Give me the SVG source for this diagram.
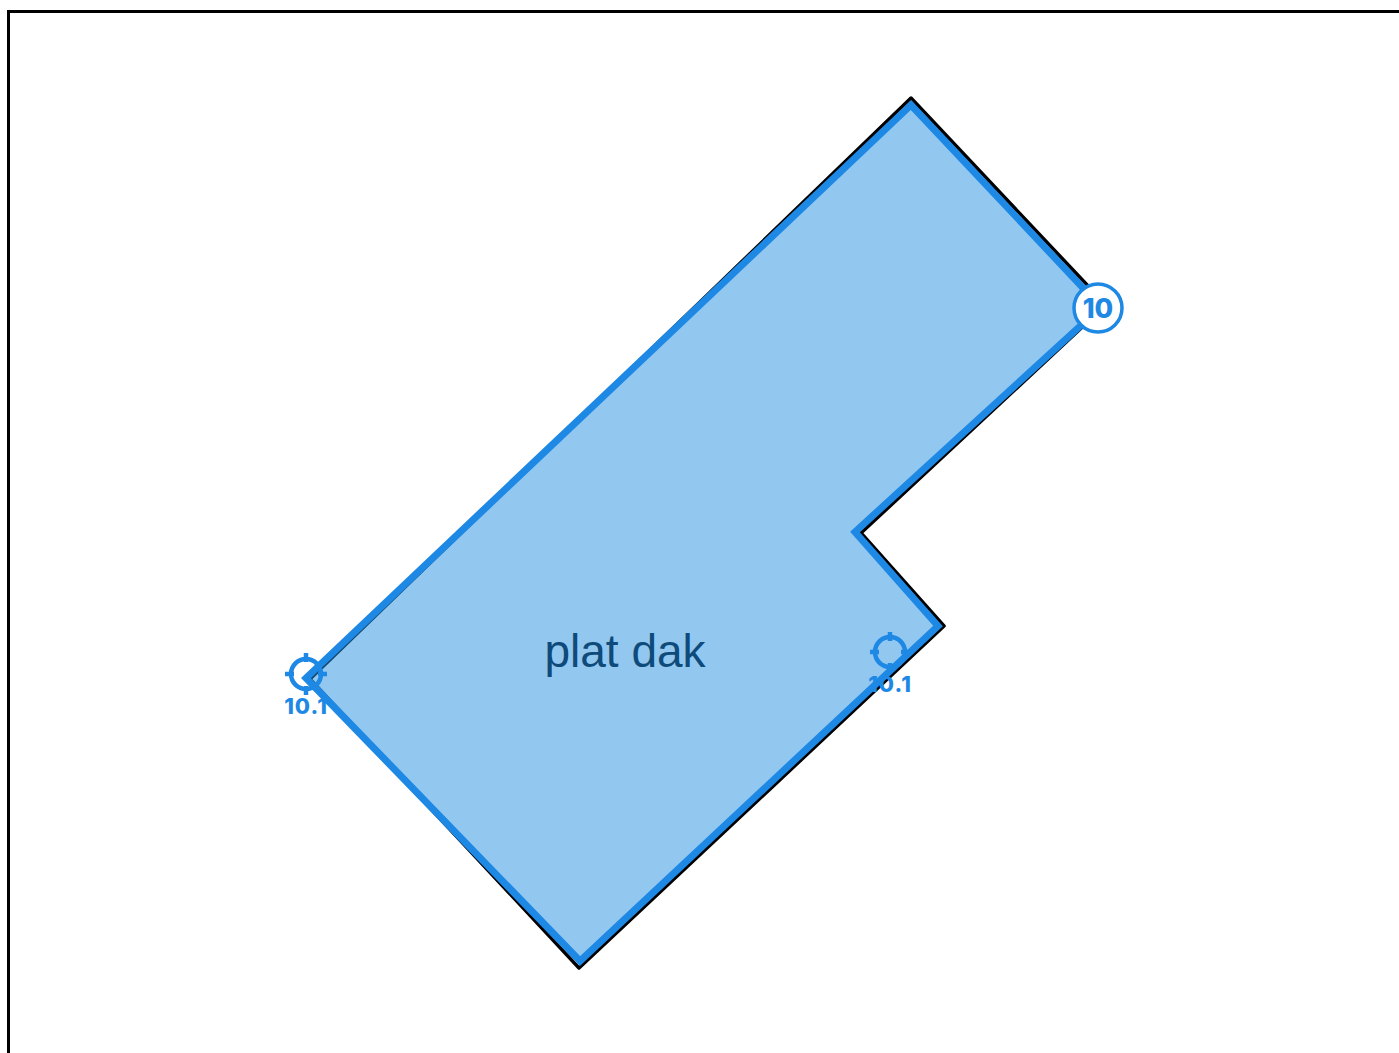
<svg xmlns="http://www.w3.org/2000/svg" width="1399" height="1053" viewBox="0 0 1399 1053">
<style>
.mark{fill:none;stroke:#1e88e5;stroke-width:4.5}
.lbl{font-family:"Inter","Noto Sans",sans-serif;font-weight:800;fill:#1e88e5;text-anchor:middle}
.small{font-size:22px;letter-spacing:1px}
</style>
<rect x="8.5" y="11.5" width="1500" height="1200" fill="#fff" stroke="#000" stroke-width="3"/>
<g id="outline"><polygon points="911,98 1106,305 861,533 944,626 579,968 310,679" fill="none" stroke="#000" stroke-width="3.5" stroke-linejoin="round"/></g>
<g id="roof"><polygon points="911,105 1101,307 855,532 938,626 580,961 306,678" fill="#2590e1" fill-opacity=".5" stroke="#1e88e5" stroke-width="7"/>
<text x="625" y="667" font-family="Liberation Sans, Arial, sans-serif" font-size="46" fill="#0e4a7a" text-anchor="middle">plat dak</text></g>
<g id="target1"><circle class="mark" cx="306" cy="674" r="15"/><path class="mark" d="M306 653v9M306 686v9M285 674h9M318 674h9"/><text class="lbl small" x="306" y="714">10.1</text></g>
<g id="target2"><circle class="mark" cx="890" cy="652" r="15"/><path class="mark" d="M890 632v9M890 663v9M870 652h9M901 652h9"/><text class="lbl small" x="890" y="692">10.1</text></g>
<g id="badge"><circle cx="1098" cy="308" r="24" fill="#fff" stroke="#1e88e5" stroke-width="3.5"/><text class="lbl" x="1098" y="318" font-size="27">10</text></g>
</svg>
